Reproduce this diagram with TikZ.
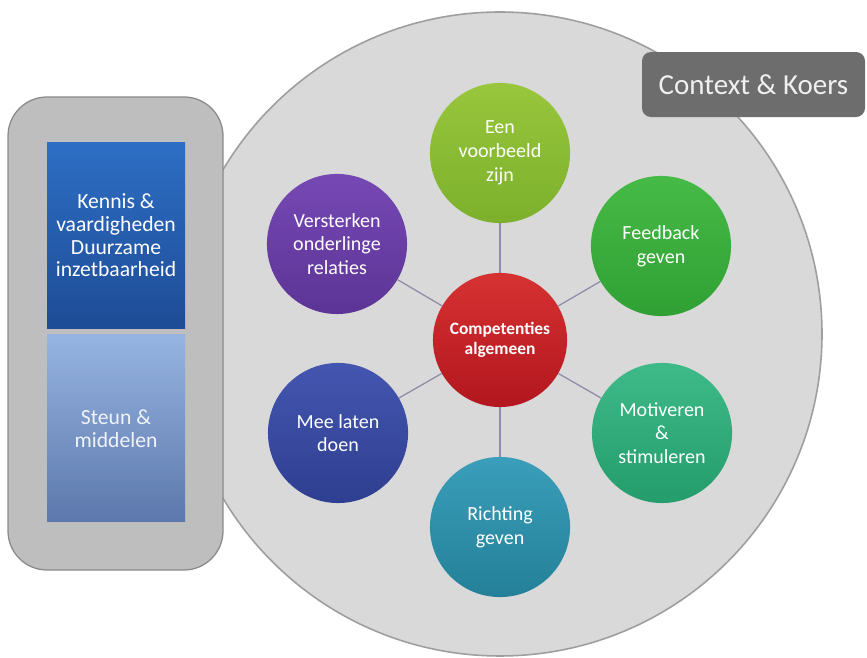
\documentclass[tikz,border=0pt]{standalone}
\usepackage{fontspec}
\setmainfont{Carlito}
\definecolor{achtergrond}{HTML}{D9D9D9}
\definecolor{randgrijs}{HTML}{9E9E9E}
\definecolor{paneelgrijs}{HTML}{BEBEBE}
\definecolor{paneelrand}{HTML}{8A8A8A}
\definecolor{koersgrijs}{HTML}{6D6D6D}
\definecolor{lijnpaars}{HTML}{8E8CA8}
\tikzset{
	bol/.style={circle, minimum size=4.67cm, inner sep=0pt, text=white, align=center, font=\fontsize{19}{22.5}\selectfont},
	blok/.style={rectangle, minimum width=4.6cm, inner sep=0pt, align=center, font=\fontsize{20.5}{21.5}\selectfont},
	spaak/.style={draw=lijnpaars, line width=1.2pt}
}

\begin{document}
\begin{tikzpicture}
				\useasboundingbox (0, 0) rectangle (28.9, 21.9);
				
				\draw[fill=achtergrond, draw=randgrijs, line width=1.5pt] (16.667, 10.767) circle (10.733);
				
				\draw[fill=paneelgrijs, draw=paneelrand, line width=1.2pt, rounded corners=1.3cm] (0.267, 2.9) rectangle (7.433, 18.667);
				\node[blok, minimum height=6.167cm, top color={rgb,255:red,45;green,110;blue,196}, bottom color={rgb,255:red,30;green,76;blue,150}, text=white] (kennis) at (3.867, 14.05) {Kennis \&\\vaardigheden\\Duurzame\\inzetbaarheid};
				\node[blok, minimum height=6.233cm, top color={rgb,255:red,150;green,180;blue,225}, bottom color={rgb,255:red,92;green,120;blue,172}, text={rgb,255:red,240;green,243;blue,250}] (steun) at (3.867, 7.617) {Steun \&\\middelen};
				
				\node[bol, minimum size=4.47cm, top color={rgb,255:red,214;green,50;blue,50}, bottom color={rgb,255:red,178;green,22;blue,30}, font=\bfseries\fontsize{16.5}{18.5}\selectfont] (comp) at (16.667, 10.567) {Competenties\\algemeen};
				
				\node[bol, top color={rgb,255:red,152;green,198;blue,60}, bottom color={rgb,255:red,124;green,176;blue,44}] (voorbeeld) at (16.667, 16.8) {Een\\voorbeeld\\zijn};
				\node[bol, top color={rgb,255:red,70;green,186;blue,70}, bottom color={rgb,255:red,48;green,160;blue,52}] (feedback) at (22.033, 13.7) {Feedback\\geven};
				\node[bol, top color={rgb,255:red,62;green,186;blue,136}, bottom color={rgb,255:red,36;green,156;blue,108}] (motiveren) at (22.067, 7.467) {Motiveren\\\&\\stimuleren};
				\node[bol, top color={rgb,255:red,58;green,158;blue,186}, bottom color={rgb,255:red,36;green,128;blue,152}] (richting) at (16.667, 4.333) {Richting\\geven};
				\node[bol, top color={rgb,255:red,68;green,86;blue,176}, bottom color={rgb,255:red,46;green,62;blue,144}] (meedoen) at (11.267, 7.467) {Mee laten\\doen};
				\node[bol, top color={rgb,255:red,118;green,72;blue,180}, bottom color={rgb,255:red,92;green,52;blue,150}] (versterken) at (11.233, 13.767) {Versterken\\onderlinge\\relaties};
				
				\draw[spaak] (comp) -- (voorbeeld);
				\draw[spaak] (comp) -- (feedback);
				\draw[spaak] (comp) -- (motiveren);
				\draw[spaak] (comp) -- (richting);
				\draw[spaak] (comp) -- (meedoen);
				\draw[spaak] (comp) -- (versterken);
				
				\node[rectangle, rounded corners=0.3cm, fill=koersgrijs, minimum width=7.433cm, minimum height=2.167cm, text={rgb,255:red,240;green,240;blue,240}, font=\fontsize{27.5}{30}\selectfont] (koers) at (25.117, 19.083) {Context \& Koers};
			\end{tikzpicture}
\end{document}
